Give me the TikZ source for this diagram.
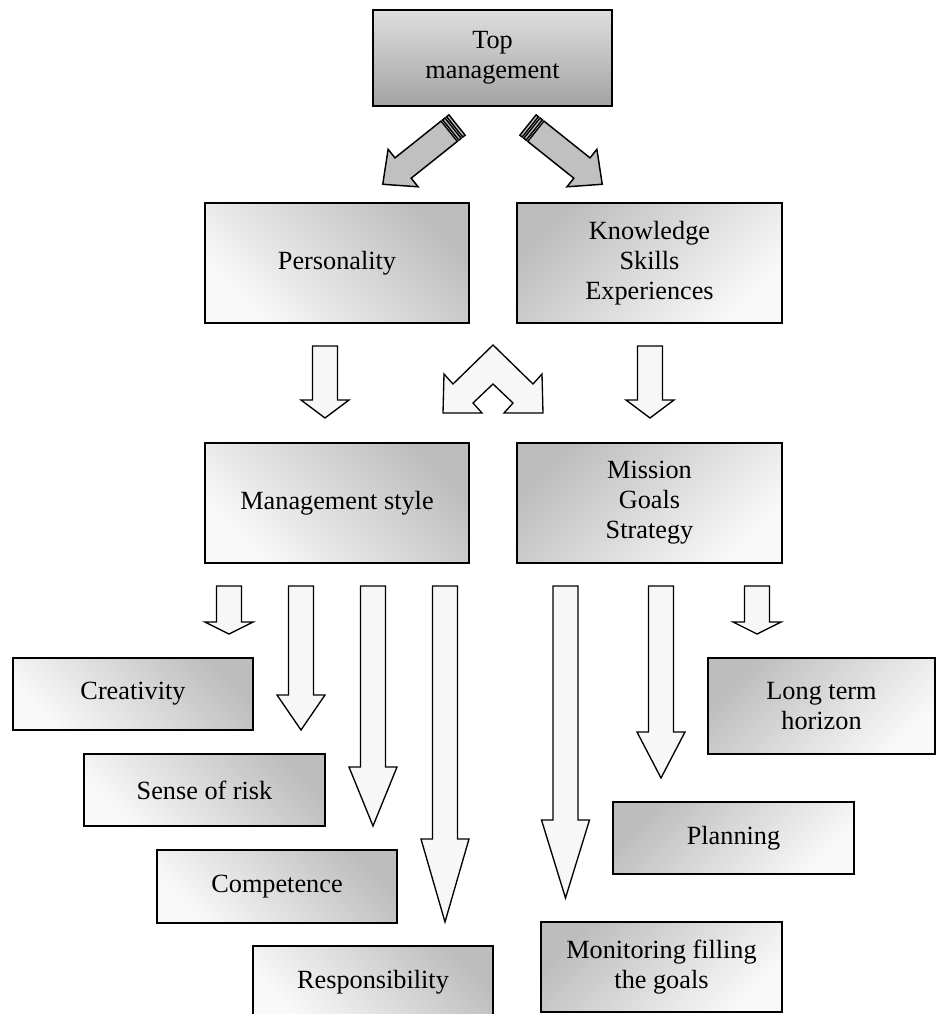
\documentclass[tikz,border=0pt]{standalone}
\usepackage{fontspec}
\setmainfont{Liberation Serif}
\definecolor{darkg}{HTML}{BDBDBD}
\definecolor{lightg}{HTML}{F9F9F9}
\definecolor{topdark}{HTML}{A3A3A3}
\definecolor{toplight}{HTML}{DEDEDE}
\definecolor{diagfill}{HTML}{C0C0C0}
\definecolor{arrfill}{HTML}{F7F7F7}
\newcommand\blockdn[4]{%
  \draw[dnarrow] (#1-12.5,#2) -- (#1+12.5,#2) -- (#1+12.5,#3) -- (#1+24,#3)
    -- (#1,#4) -- (#1-24,#3) -- (#1-12.5,#3) -- cycle;}
\begin{document}
\begin{tikzpicture}[x=0.75pt,y=-0.75pt,
  every node/.style={font=\fontsize{19.7}{22.5}\selectfont, align=center, inner sep=0pt},
  box/.style={draw=black, line width=1.5pt, rectangle},
  gTR/.style={box, top color=darkg, bottom color=lightg, shading angle=-45},
  gTL/.style={box, top color=darkg, bottom color=lightg, shading angle=45},
  gTop/.style={box, top color=toplight, bottom color=topdark},
  dnarrow/.style={draw=black, line width=1pt, fill=arrfill, line join=miter},
  diag/.style={draw=black, line width=1.1pt, fill=diagfill, line join=miter},
  striped/.pic={
    \draw[diag] (10,-13) -- (69,-13) -- (69,-24) -- (95,0) -- (69,24) -- (69,13) -- (10,13) -- cycle;
    \draw[diag] (0,-13) rectangle (3,13);
    \draw[diag] (5,-13) rectangle (8,13);
  }]
\useasboundingbox (0,0) rectangle (936,1014);
\clip (0,0) rectangle (936,1014);

% boxes
\node[gTop, minimum width=179.25pt, minimum height=72pt] (top) at (492.5,58) {Top\\management};
\node[gTR, minimum width=198pt, minimum height=90pt] (pers) at (337,263) {Personality};
\node[gTL, minimum width=198.75pt, minimum height=90pt] (know) at (649.5,263) {Knowledge\\Skills\\Experiences};
\node[gTR, minimum width=198pt, minimum height=90pt] (mgmt) at (337,503) {Management style};
\node[gTL, minimum width=198.75pt, minimum height=90pt] (miss) at (649.5,503) {Mission\\Goals\\Strategy};

\node[gTR, minimum width=180pt, minimum height=54pt] (creat) at (133,694) {Creativity};
\node[gTR, minimum width=180.75pt, minimum height=54pt] (risk) at (204.5,790) {Sense of risk};
\node[gTR, minimum width=180pt, minimum height=54.75pt] (comp) at (277,886.5) {Competence};
\node[gTR, minimum width=180pt, minimum height=54pt] (resp) at (373,982) {Responsibility};

\node[gTL, minimum width=170.25pt, minimum height=72pt] (longt) at (821.5,706) {Long term\\horizon};
\node[gTL, minimum width=180.75pt, minimum height=54pt] (plan) at (733.5,838) {Planning};
\node[gTL, minimum width=180.75pt, minimum height=67.5pt] (monit) at (661.5,967) {Monitoring filling\\the goals};

% diagonal striped arrows
\pic[rotate=218.6] at (457,125) {striped};
\pic[rotate=-38.6] at (528,125) {striped};

% down arrows between rows
\blockdn{325}{346}{400}{418}
\blockdn{650}{346}{400}{418}

% double (chevron) arrow
\draw[dnarrow] (493,345) -- (533,384) -- (542,374) -- (543,413) -- (504,413) -- (513,403)
  -- (493,384) -- (473,403) -- (482,413) -- (443,413) -- (444,374) -- (453,384) -- cycle;

% arrows below
\blockdn{229}{586}{622}{634}
\blockdn{301}{586}{695}{730}
\blockdn{373}{586}{767}{826}
\blockdn{445}{586}{839}{922}
\blockdn{565.5}{586}{820}{898}
\blockdn{661}{586}{732}{778}
\blockdn{757}{586}{622}{634}
\end{tikzpicture}
\end{document}
